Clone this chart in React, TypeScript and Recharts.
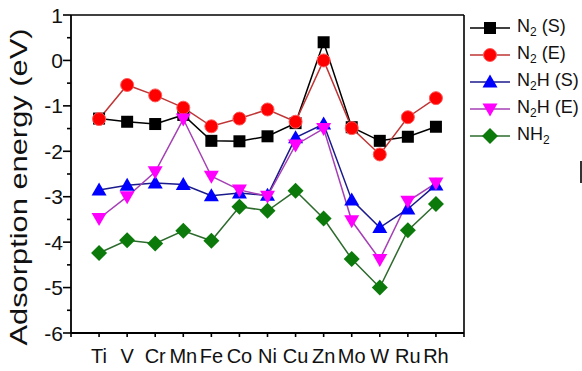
import React from 'react';
import { LineChart, Line, XAxis, YAxis, ReferenceLine } from 'recharts';

const categories = ['Ti', 'V', 'Cr', 'Mn', 'Fe', 'Co', 'Ni', 'Cu', 'Zn', 'Mo', 'W', 'Ru', 'Rh'];

const n2S = [-1.28, -1.35, -1.40, -1.20, -1.77, -1.78, -1.67, -1.38, 0.40, -1.47, -1.77, -1.68, -1.46];
const n2E = [-1.29, -0.54, -0.77, -1.04, -1.45, -1.28, -1.08, -1.35, 0.0, -1.49, -2.07, -1.25, -0.83];
const n2hS = [-2.85, -2.75, -2.70, -2.73, -2.98, -2.92, -2.97, -1.70, -1.40, -3.07, -3.68, -3.27, -2.74];
const n2hE = [-3.48, -3.00, -2.45, -1.29, -2.55, -2.85, -2.99, -1.86, -1.50, -3.53, -4.38, -3.10, -2.70];
const nh2 = [-4.24, -3.96, -4.03, -3.75, -3.97, -3.22, -3.31, -2.87, -3.48, -4.37, -5.00, -3.74, -3.16];

const yTicks = [-6, -5.5, -5, -4.5, -4, -3.5, -3, -2.5, -2, -1.5, -1, -0.5, 0, 0.5, 1];
const xTicks = [0, 1, 2, 3, 4, 5, 6, 7, 8, 9, 10, 11, 12, 13, 14];

const data = categories.map((c, i) => ({
  x: i + 1,
  name: c,
  n2S: n2S[i],
  n2E: n2E[i],
  n2hS: n2hS[i],
  n2hE: n2hE[i],
  nh2: nh2[i],
}));

const FONT = '"Liberation Sans", Arial, sans-serif';

type Shape = 'square' | 'circle' | 'up' | 'down' | 'diamond';

const series = [
  { key: 'n2S', base: 'N', sub: '2', rest: ' (S)', line: '#000000', fill: '#000000', shape: 'square' as Shape },
  { key: 'n2E', base: 'N', sub: '2', rest: ' (E)', line: '#c03535', fill: '#ff0000', shape: 'circle' as Shape },
  { key: 'n2hS', base: 'N', sub: '2', rest: 'H (S)', line: '#1a1a8c', fill: '#0000ff', shape: 'up' as Shape },
  { key: 'n2hE', base: 'N', sub: '2', rest: 'H (E)', line: '#a53fb5', fill: '#ff00ff', shape: 'down' as Shape },
  { key: 'nh2', base: 'NH', sub: '2', rest: '', line: '#2d6b2d', fill: '#0b7a0b', shape: 'diamond' as Shape },
];

function marker(shape: Shape, cx: number, cy: number, fill: string, key?: string) {
  if (shape === 'square') {
    return <rect key={key} x={cx - 6} y={cy - 6} width={12} height={12} fill={fill} />;
  }
  if (shape === 'circle') {
    return <circle key={key} cx={cx} cy={cy} r={6.5} fill={fill} stroke="#ff5a5a" strokeWidth={1} />;
  }
  if (shape === 'up') {
    return <polygon key={key} points={`${cx},${cy - 7.5} ${cx - 7.5},${cy + 5.5} ${cx + 7.5},${cy + 5.5}`} fill={fill} />;
  }
  if (shape === 'down') {
    return <polygon key={key} points={`${cx},${cy + 7.5} ${cx - 7.5},${cy - 5.5} ${cx + 7.5},${cy - 5.5}`} fill={fill} />;
  }
  return <polygon key={key} points={`${cx},${cy - 8} ${cx + 8},${cy} ${cx},${cy + 8} ${cx - 8},${cy}`} fill={fill} />;
}

const YTick = (props: any) => {
  const { x, y, payload } = props;
  const major = Number.isInteger(payload.value);
  return (
    <g>
      <line x1={x - (major ? 8 : 4)} x2={x} y1={y} y2={y} stroke="#000" strokeWidth={1.6} />
      {major && (
        <text x={x - 8} y={y} dy={7.5} textAnchor="end" fontSize={21} fontFamily={FONT} fill="#111">
          {payload.value}
        </text>
      )}
    </g>
  );
};

const LegendBox = () => (
  <div style={{ position: 'absolute', left: 470, top: 14, fontFamily: FONT, fontSize: 18, color: '#111' }}>
    {series.map((s) => (
      <div key={s.key} style={{ height: 27, display: 'flex', alignItems: 'center' }}>
        <svg width={42} height={20} style={{ display: 'block' }}>
          <line x1={0} x2={40} y1={10} y2={10} stroke={s.line} strokeWidth={1.6} />
          {marker(s.shape, 20, 10, s.fill)}
        </svg>
        <span style={{ marginLeft: 5, whiteSpace: 'nowrap' }}>
          {s.base}
          <sub style={{ fontSize: 12, verticalAlign: -4 }}>{s.sub}</sub>
          {s.rest}
        </span>
      </div>
    ))}
  </div>
);

export default function App() {
  return (
    <div style={{ position: 'absolute', left: 0, top: 0, width: 582, height: 371, background: '#fff' }}>
      <LineChart width={582} height={371} data={data} margin={{ top: 15, right: 118, bottom: 8, left: 0 }}>
        <XAxis
          dataKey="x"
          type="number"
          domain={[0, 14]}
          ticks={xTicks}
          interval={0}
          height={30}
          tickFormatter={(v: number) => categories[v - 1] ?? ''}
          axisLine={{ stroke: '#000', strokeWidth: 1.8 }}
          tickLine={{ stroke: '#000', strokeWidth: 1.6 }}
          tickSize={4}
          tickMargin={12}
          tick={{ fontSize: 20, fontFamily: FONT, fill: '#111' }}
        />
        <YAxis
          type="number"
          domain={[-6, 1]}
          ticks={yTicks}
          interval={0}
          width={71}
          tickSize={0}
          tickMargin={0}
          tickLine={false}
          axisLine={{ stroke: '#000', strokeWidth: 1.8 }}
          tick={<YTick />}
          label={{
            content: () => (
              <text
                x={0}
                y={0}
                transform="translate(27,187) rotate(-90)"
                textAnchor="middle"
                fontSize={24}
                fontFamily={FONT}
                fill="#111"
                textLength={317}
                lengthAdjust="spacingAndGlyphs"
              >
                Adsorption energy (eV)
              </text>
            ),
          }}
        />
        <ReferenceLine y={1} stroke="#000" strokeWidth={1.6} />
        <ReferenceLine x={14} stroke="#000" strokeWidth={1.6} />
        {series.map((s) => (
          <Line
            key={s.key}
            dataKey={s.key}
            type="linear"
            stroke={s.line}
            strokeWidth={1.5}
            isAnimationActive={false}
            dot={(p: any) => marker(s.shape, p.cx, p.cy, s.fill, `${s.key}-${p.index}`)}
            activeDot={false}
          />
        ))}
      </LineChart>
      <LegendBox />
      <div style={{ position: 'absolute', left: 580, top: 161, width: 1.5, height: 22, background: '#333' }} />
    </div>
  );
}
